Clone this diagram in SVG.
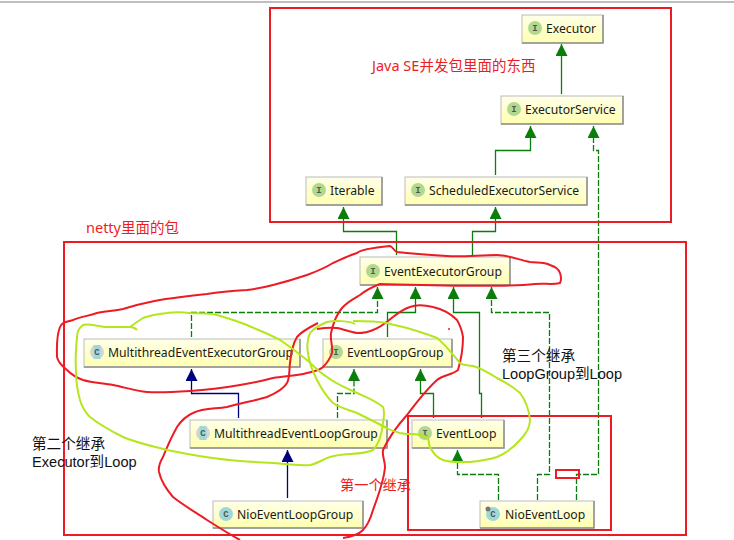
<svg xmlns="http://www.w3.org/2000/svg" width="734" height="540" viewBox="0 0 734 540">
<style>
.box{fill:url(#nodeFill);stroke:#bcbcbc;stroke-width:1}
.shade{fill:none;stroke:#8f8f8f;stroke-width:1.5}
.lbl{font:12.2px "Noto Sans","Liberation Sans",sans-serif;fill:#1a1a1a}
.ii{fill:#b0d98e}
.cc{fill:#9fd8d8}
.gl{font:bold 9px "Liberation Mono",monospace;fill:#555;text-anchor:middle}
.g,.gd,.n{fill:none;stroke-width:1.3}
.g,.gd{stroke:#0a7d0a}
.gd{stroke-dasharray:6 2}
.n{stroke:#00007f}
.rbox{fill:none;stroke:#ed1c24;stroke-width:2}
.rink{fill:none;stroke:#ed1c24;stroke-width:2;stroke-linejoin:round}
.yink{fill:none;stroke:#b5e61d;stroke-width:2;stroke-linejoin:round}
.note{font:14.5px "Noto Sans","Noto Sans CJK SC",sans-serif}
.dark{font:14.6px "Liberation Sans","Noto Sans CJK SC",sans-serif;fill:#111}
</style>
<defs>
<linearGradient id="nodeFill" x1="0" y1="0" x2="0" y2="1"><stop offset="0" stop-color="#ffffea"/><stop offset="1" stop-color="#ffffb0"/></linearGradient>
<marker id="ag" markerUnits="userSpaceOnUse" markerWidth="12" markerHeight="12" refX="12" refY="6" orient="auto"><path d="M0 0L12 6L0 12Z" fill="#0a7d0a"/></marker>
<marker id="an" markerUnits="userSpaceOnUse" markerWidth="12" markerHeight="12" refX="12" refY="6" orient="auto"><path d="M0 0L12 6L0 12Z" fill="#00007f"/></marker>
</defs>
<rect width="734" height="540" fill="#fff"/>
<path d="M0 2H734" stroke="#a8a8a8" stroke-width="1.5"/>

<g id="connectors">
<path class="g" marker-end="url(#ag)" d="M561.5 94V44"/>
<path class="g" marker-end="url(#ag)" d="M495.5 175V150.5H530.5V126"/>
<path class="g" marker-end="url(#ag)" d="M396.500 255V231.5H343.5V207"/>
<path class="g" marker-end="url(#ag)" d="M472.5 255V231.5H495.5V207"/>
<path class="gd" marker-end="url(#ag)" d="M576.5 500V474.5H598.5V150.5H593.5V126"/>
<path class="gd" marker-end="url(#ag)" d="M191.5 337V312.5H377.5V287"/>
<path class="g" marker-end="url(#ag)" d="M387.5 337V312.5H415.5V287"/>
<path class="g" marker-end="url(#ag)" d="M481.5 418V393.5H479.5V312.5H453.5V287"/>
<path class="gd" marker-end="url(#ag)" d="M537.5 500V474.5H549.5V312.5H491.5V287"/>
<path class="n" marker-end="url(#an)" d="M238.5 418V393.5H191.5V369"/>
<path class="gd" marker-end="url(#ag)" d="M337.5 418V393.5H354V369"/>
<path class="g" marker-end="url(#ag)" d="M433.5 418V393.5H420.5V369"/>
<path class="n" marker-end="url(#an)" d="M287.5 498V450"/>
<path class="gd" marker-end="url(#ag)" d="M498.5 500V474.5H457.5V450"/>
</g>

<g id="executor"><rect class="box" x="522" y="15" width="81" height="28"/><path class="shade" d="M603 15V43H522"/><circle class="ii" cx="535" cy="28" r="7"/><text class="gl" x="535" y="31">I</text><text class="lbl" x="546" y="33">Executor</text></g>
<g id="executor-service"><rect class="box" x="501" y="96" width="122" height="28"/><path class="shade" d="M623 96V124H501"/><circle class="ii" cx="514" cy="109" r="7"/><text class="gl" x="514" y="112">I</text><text class="lbl" x="525" y="114">ExecutorService</text></g>
<g id="iterable"><rect class="box" x="306" y="177" width="76" height="28"/><path class="shade" d="M382 177V205H306"/><circle class="ii" cx="319" cy="190" r="7"/><text class="gl" x="319" y="193">I</text><text class="lbl" x="330" y="195">Iterable</text></g>
<g id="scheduled-executor-service"><rect class="box" x="405" y="177" width="182" height="28"/><path class="shade" d="M587 177V205H405"/><circle class="ii" cx="418" cy="190" r="7"/><text class="gl" x="418" y="193">I</text><text class="lbl" x="429" y="195">ScheduledExecutorService</text></g>
<g id="event-executor-group"><rect class="box" x="360" y="257" width="150" height="28"/><path class="shade" d="M510 257V285H360"/><circle class="ii" cx="373" cy="271" r="7"/><text class="gl" x="373" y="274">I</text><text class="lbl" x="384" y="276">EventExecutorGroup</text></g>
<g id="multithread-event-executor-group"><rect class="box" x="84" y="339" width="216" height="28"/><path class="shade" d="M300 339V367H84"/><circle cx="97" cy="352" r="7" fill="#d5d5d5"/><rect x="93.500" y="345" width="7" height="14" fill="#9fd8d8"/><text class="gl" x="97" y="355">C</text><text class="lbl" x="108" y="357">MultithreadEventExecutorGroup</text></g>
<g id="event-loop-group"><rect class="box" x="323" y="339" width="129" height="28"/><path class="shade" d="M452 339V367H323"/><circle class="ii" cx="336" cy="352" r="7"/><text class="gl" x="336" y="355">I</text><text class="lbl" x="347" y="357">EventLoopGroup</text></g>
<g id="multithread-event-loop-group"><rect class="box" x="190" y="420" width="197" height="28"/><path class="shade" d="M387 420V448H190"/><circle cx="203" cy="433" r="7" fill="#d5d5d5"/><rect x="199.500" y="426" width="7" height="14" fill="#9fd8d8"/><text class="gl" x="203" y="436">C</text><text class="lbl" x="214" y="438">MultithreadEventLoopGroup</text></g>
<g id="event-loop"><rect class="box" x="412" y="420" width="92" height="28"/><path class="shade" d="M504 420V448H412"/><circle class="ii" cx="425" cy="433" r="7"/><text class="gl" x="425" y="436">I</text><text class="lbl" x="436" y="438">EventLoop</text></g>
<g id="nio-event-loop-group"><rect class="box" x="213" y="501" width="150" height="27"/><path class="shade" d="M363 501V528H213"/><circle class="cc" cx="226" cy="514" r="7"/><text class="gl" x="226" y="517">C</text><text class="lbl" x="237" y="519">NioEventLoopGroup</text></g>
<g id="nio-event-loop"><rect class="box" x="480" y="501" width="114" height="27"/><path class="shade" d="M594 501V528H480"/><circle class="cc" cx="493" cy="514" r="7"/><circle cx="488" cy="509" r="2.500" fill="#777"/><text class="gl" x="493" y="517">C</text><text class="lbl" x="505" y="519">NioEventLoop</text></g>

<g id="annotations">
<rect class="rbox" x="270" y="8" width="401" height="214"/>
<rect class="rbox" x="64" y="242" width="622" height="293"/>
<rect class="rbox" x="408" y="416" width="203" height="114"/>
<rect class="rbox" x="556" y="470" width="23" height="8"/>
<path class="rink" d="M390 246 C370 248 360 250 357 253 C345 257 340 260 333 263 C325 268 315 272 307 275 C295 279 285 282 273 285 C262 288 255 289 247 290 C232 291 220 292 207 294 C188 296 168 298 150 302 C140 304 132 306 123 309 C114 311 105 311 97 313 C88 316 80 317 73 320 C66 322 62 322 60 327 C56 337 57 347 57 357 C58 362 62 366 67 370 C72 375 77 378 83 380 C93 383 103 383 113 385 C124 387 135 391 147 392 C160 393 175 392 190 391 C207 390 223 388 240 385 C252 383 262 381 273 378 C285 376 296 376 307 373 C314 371 319 371 323 367 C328 362 330 359 332 353 C333 346 330 340 331 333 C333 324 336 315 342 308 C347 302 353 299 360 295 C365 291 372 287 380 284 C420 285 500 288 535 284 C545 283 552 285 560 283 C562 279 561 276 560 273 C558 268 555 267 550 265 C544 262 537 263 530 262 C519 260 508 255 497 255 C480 255 463 257 447 256 C430 255 414 254 397 252 C394 251 393 247 390 246Z"/>
<path class="rink" d="M318 323 C310 327 302 331 297 337 C292 345 291 354 290 363 C289 370 290 378 287 383 C283 390 274 394 267 397 C254 401 240 403 227 407 C215 409 203 408 193 413 C186 416 181 421 177 427 C172 436 167 447 163 457 C160 462 158 466 159 472 C161 481 167 490 173 497 C183 505 195 512 207 520 C218 527 229 534 240 540"/>
<path class="rink" d="M343 538 C350 537 358 535 363 530 C368 525 371 517 373 510 C378 496 384 481 385 467 C385 461 382 456 383 450 C389 437 398 425 407 415 C416 403 426 390 437 380 C443 375 452 375 458 370 C461 360 463 347 463 337 C462 331 460 325 457 320 C450 313 442 309 433 307 C425 305 417 304 410 307 C404 309 398 313 393 317 C387 322 380 328 373 330 C367 333 362 333 357 333 C350 332 343 329 337 328 C330 327 323 328 317 329"/>
<circle cx="449" cy="329" r="1" fill="#ed1c24"/>
<path class="yink" d="M137 330 C135 328 133 327 130 327 C122 327 114 327 107 327 C99 327 90 323 83 325 C79 328 77 332 77 337 C76 348 75 359 76 370 C76 381 77 390 80 400 C82 407 85 412 90 417 C100 425 111 431 123 437 C137 443 152 446 167 450 C182 453 197 456 213 458 C233 461 253 462 273 463 C285 464 298 466 310 465 C317 464 323 459 330 457 C344 452 360 456 373 450 C379 444 382 432 383 423 C384 417 385 412 383 407 C376 401 366 397 357 393 C346 388 336 384 327 377 C319 372 314 366 307 360 C298 353 289 346 280 340 C269 334 258 330 247 325 C237 321 227 318 217 315 C208 313 199 313 190 313 C182 312 174 312 167 313 C158 314 151 315 143 318 C138 321 134 324 130 327"/>
<path class="yink" d="M355 324 C350 321 335 320 327 322 C320 325 314 328 310 333 C307 339 307 347 308 353 C309 363 313 372 317 380 C321 388 327 397 333 403 C340 408 349 410 357 413 C367 418 377 423 387 428 C384 427 382 425 380 425 C387 429 393 431 400 433 C409 435 418 433 427 437 C430 440 428 444 430 447 C433 453 437 458 443 460 C452 463 461 462 470 462 C479 461 488 460 497 457 C506 453 514 447 520 440 C526 434 530 428 530 420 C529 410 526 401 520 393 C513 387 505 382 497 378 C489 373 481 368 473 366 C468 365 464 366 460 363 C453 355 446 345 437 338 C427 334 417 331 407 328 C400 326 393 325 387 323 C376 321 364 321 353 321"/>
<text class="note" x="372" y="71" fill="#ed1c24">Java SE并发包里面的东西</text>
<text class="note" x="86" y="233" fill="#ed1c24">netty里面的包</text>
<text class="note" x="340" y="490" fill="#ed1c24" style="font-size:14.2px">第一个继承</text>
<text class="dark" x="32" y="449">第二个继承</text>
<text class="dark" x="32" y="467">Executor到Loop</text>
<text class="dark" x="502" y="361">第三个继承</text>
<text class="dark" x="502" y="379">LoopGroup到Loop</text>
</g>
</svg>
